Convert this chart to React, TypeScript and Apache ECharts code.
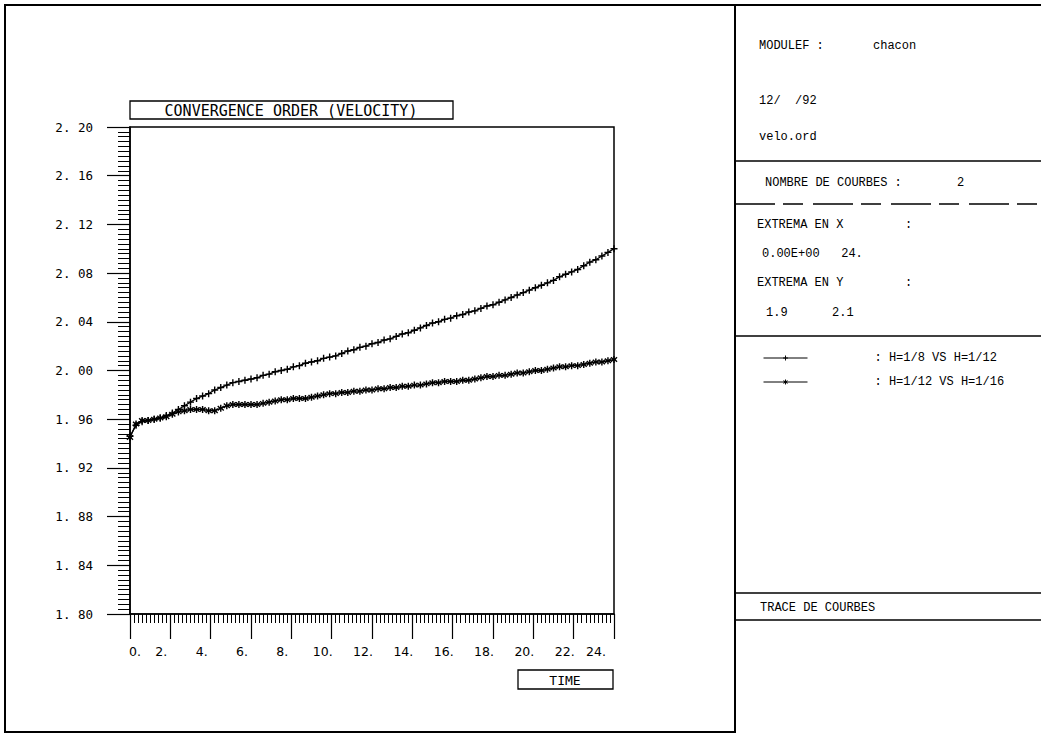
import React, { useEffect, useRef } from "react";
import * as echarts from "echarts";

const times = [0, 0.3, 0.6, 0.9, 1.2, 1.5, 1.8, 2.1, 2.4, 2.7, 3, 3.3, 3.6, 3.9, 4.2, 4.5, 4.8, 5.1, 5.4, 5.7, 6, 6.3, 6.6, 6.9, 7.2, 7.5, 7.8, 8.1, 8.4, 8.7, 9, 9.3, 9.6, 9.9, 10.2, 10.5, 10.8, 11.1, 11.4, 11.7, 12, 12.3, 12.6, 12.9, 13.2, 13.5, 13.8, 14.1, 14.4, 14.7, 15, 15.3, 15.6, 15.9, 16.2, 16.5, 16.8, 17.1, 17.4, 17.7, 18, 18.3, 18.6, 18.9, 19.2, 19.5, 19.8, 20.1, 20.4, 20.7, 21, 21.3, 21.6, 21.9, 22.2, 22.5, 22.8, 23.1, 23.4, 23.7, 24];

// H=1/8 VS H=1/12
const orderH8H12 = [1.946, 1.955, 1.958, 1.959, 1.96, 1.961, 1.963, 1.965, 1.968, 1.971, 1.974, 1.977, 1.979, 1.981, 1.984, 1.986, 1.988, 1.99, 1.991, 1.992, 1.993, 1.994, 1.996, 1.997, 1.999, 2.0, 2.001, 2.003, 2.004, 2.006, 2.007, 2.008, 2.01, 2.011, 2.012, 2.014, 2.016, 2.017, 2.019, 2.02, 2.022, 2.023, 2.025, 2.026, 2.028, 2.03, 2.031, 2.033, 2.035, 2.037, 2.039, 2.04, 2.042, 2.043, 2.045, 2.046, 2.048, 2.049, 2.051, 2.053, 2.054, 2.056, 2.058, 2.06, 2.062, 2.064, 2.066, 2.068, 2.07, 2.072, 2.074, 2.077, 2.079, 2.081, 2.083, 2.086, 2.089, 2.091, 2.094, 2.097, 2.1];

// H=1/12 VS H=1/16
const orderH12H16 = [1.945, 1.956, 1.959, 1.959, 1.96, 1.961, 1.962, 1.964, 1.966, 1.967, 1.968, 1.968, 1.968, 1.967, 1.967, 1.969, 1.971, 1.972, 1.972, 1.972, 1.972, 1.972, 1.973, 1.974, 1.975, 1.976, 1.976, 1.977, 1.977, 1.977, 1.978, 1.979, 1.98, 1.981, 1.981, 1.982, 1.982, 1.983, 1.983, 1.984, 1.984, 1.985, 1.985, 1.986, 1.986, 1.987, 1.987, 1.988, 1.988, 1.989, 1.99, 1.99, 1.991, 1.991, 1.991, 1.992, 1.992, 1.993, 1.994, 1.995, 1.995, 1.996, 1.996, 1.997, 1.998, 1.998, 1.999, 2.0, 2.0, 2.001, 2.002, 2.003, 2.003, 2.004, 2.004, 2.005, 2.006, 2.007, 2.007, 2.008, 2.009];

const seriesNames = ["H=1/8 VS H=1/12", "H=1/12 VS H=1/16"];
const chartTitle = "CONVERGENCE ORDER (VELOCITY)";
const xName = "TIME";

const PLUS = "path://M4,0H6V4H10V6H6V10H4V6H0V4H4Z";
const STAR = "path://M4,0H6V3.6L8.5,1.1L9.9,2.5L7.4,5L9.9,7.5L8.5,8.9L6,6.4V10H4V6.4L1.5,8.9L0.1,7.5L2.6,5L0.1,2.5L1.5,1.1L4,3.6Z";

const MONO = '"Liberation Mono", monospace';

export default function App() {
  const ref = useRef<HTMLDivElement>(null);
  useEffect(() => {
    const chart = echarts.init(ref.current!, null, { renderer: "svg" });
    const s1 = times.map((t, i) => [t, orderH8H12[i]]);
    const s2 = times.map((t, i) => [t, orderH12H16[i]]);
    const line = (x1: number, y1: number, x2: number, y2: number, w = 1.5, dash?: number[]) => ({
      type: "line",
      shape: { x1, y1, x2, y2 },
      style: { stroke: "#000", lineWidth: w, lineDash: dash },
      silent: true,
    });
    const txt = (text: string, x: number, y: number, font = MONO, size = 12, align = "left") => ({
      type: "text",
      x,
      y,
      style: { text, fontFamily: font, fontSize: size, fill: "#000", align, verticalAlign: "middle" },
      silent: true,
    });
    chart.setOption({
      animation: false,
      backgroundColor: "#fff",
      grid: {
        left: 130,
        top: 127,
        width: 484,
        height: 487,
        show: true,
        borderColor: "#000",
        borderWidth: 1.5,
        backgroundColor: "transparent",
      },
      xAxis: {
        type: "value",
        min: 0,
        max: 24,
        interval: 2,
        axisLine: { show: true, onZero: false, lineStyle: { color: "#000", width: 1.5 } },
        axisTick: { show: true, length: 25, lineStyle: { color: "#000", width: 1.2 } },
        minorTick: { show: true, splitNumber: 10, length: 9, lineStyle: { color: "#000", width: 1 } },
        splitLine: { show: false },
        axisLabel: {
          margin: 31,
          formatter: (v: number) => {
            const s = String(Math.round(v)) + ".";
            if (v === 0) return "{z|" + s + "}";
            if (v === 24) return "{e|" + s + "}";
            return "{n|" + s + "}";
          },
          rich: {
            n: { fontFamily: "DejaVu Sans", fontSize: 12.5, color: "#000", padding: [0, 18, 0, 0] },
            z: { fontFamily: "DejaVu Sans", fontSize: 12.5, color: "#000", padding: [0, 0, 0, 10] },
            e: { fontFamily: "DejaVu Sans", fontSize: 12.5, color: "#000", padding: [0, 36, 0, 0] },
          },
        },
      },
      yAxis: {
        type: "value",
        min: 1.8,
        max: 2.2,
        interval: 0.04,
        axisLine: { show: true, lineStyle: { color: "#000", width: 1.5 } },
        axisTick: { show: true, length: 23, lineStyle: { color: "#000", width: 1.2 } },
        minorTick: { show: true, splitNumber: 10, length: 12, lineStyle: { color: "#000", width: 1 } },
        splitLine: { show: false },
        axisLabel: {
          margin: 37,
          color: "#000",
          fontFamily: "DejaVu Sans Mono",
          fontSize: 12.5,
          formatter: (v: number) => v.toFixed(2).replace(".", ". "),
        },
      },
      legend: {
        left: 758,
        top: 347,
        orient: "vertical",
        itemWidth: 44,
        itemHeight: 6,
        itemGap: 12,
        data: seriesNames,
        formatter: (n: string) => ": " + n,
        lineStyle: { width: 1 },
        itemStyle: { borderWidth: 0 },
        textStyle: { fontFamily: MONO, fontSize: 12, color: "#000", padding: [0, 0, 0, 62] },
      },
      series: [
        {
          name: seriesNames[0],
          type: "line",
          data: s1,
          symbol: PLUS,
          symbolSize: 7,
          showAllSymbol: true,
          itemStyle: { color: "#000" },
          lineStyle: { color: "#000", width: 1.3 },
        },
        {
          name: seriesNames[1],
          type: "line",
          data: s2,
          symbol: STAR,
          symbolSize: 7,
          showAllSymbol: true,
          itemStyle: { color: "#000" },
          lineStyle: { color: "#000", width: 1.3 },
        },
      ],
      graphic: [
        {
          type: "rect",
          shape: { x: 5, y: 5, width: 730, height: 727 },
          style: { fill: "transparent", stroke: "#000", lineWidth: 2 },
          silent: true,
        },
        line(735, 5, 1041, 5, 2),
        line(735, 161, 1041, 161, 1.5),
        line(735, 204, 1041, 204, 1.5, [40, 8, 20, 10]),
        line(735, 336, 1041, 336, 1.5),
        line(735, 593, 1041, 593, 1.5),
        line(735, 620, 1041, 620, 1.5),
        {
          type: "rect",
          shape: { x: 130, y: 101, width: 323, height: 18 },
          style: { fill: "transparent", stroke: "#000", lineWidth: 1.3 },
          silent: true,
        },
        txt(chartTitle, 291, 110.5, "DejaVu Sans Mono", 15, "center"),
        {
          type: "rect",
          shape: { x: 518, y: 670, width: 95, height: 19 },
          style: { fill: "transparent", stroke: "#000", lineWidth: 1.3 },
          silent: true,
        },
        txt(xName, 565, 680, "DejaVu Sans Mono", 13, "center"),
        txt("MODULEF :", 759, 46),
        txt("chacon", 873, 46),
        txt("12/  /92", 759, 101),
        txt("velo.ord", 759, 137),
        txt("NOMBRE DE COURBES :", 765, 183),
        txt("2", 957, 183),
        txt("EXTREMA EN X", 757, 225),
        txt(":", 905, 225),
        txt("0.00E+00   24.", 762, 254),
        txt("EXTREMA EN Y", 757, 283),
        txt(":", 905, 283),
        txt("1.9", 766, 313),
        txt("2.1", 832, 313),
        txt("TRACE DE COURBES", 760, 608),
      ],
    });
    return () => chart.dispose();
  }, []);
  return <div ref={ref} style={{ position: "fixed", left: 0, top: 0, width: 1041, height: 734 }} />;
}
